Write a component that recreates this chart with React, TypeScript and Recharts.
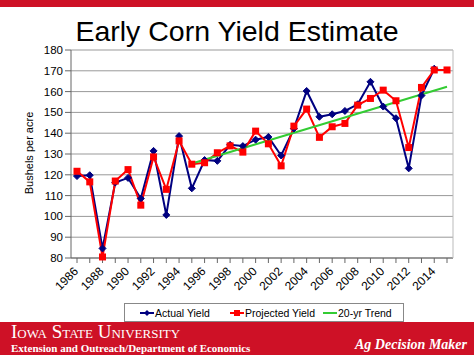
import { LineChart, Line, XAxis, YAxis, CartesianGrid } from 'recharts';

const years = [
  1986, 1987, 1988, 1989, 1990, 1991, 1992, 1993, 1994, 1995,
  1996, 1997, 1998, 1999, 2000, 2001, 2002, 2003, 2004, 2005,
  2006, 2007, 2008, 2009, 2010, 2011, 2012, 2013, 2014, 2015,
];

const actualYield = [
  119.4, 119.8, 84.6, 116.3, 118.5, 108.6, 131.5, 100.7, 138.6, 113.5,
  127.1, 126.7, 134.4, 133.8, 136.9, 138.2, 129.3, 142.2, 160.3, 147.9,
  149.1, 150.7, 153.9, 164.7, 152.8, 147.2, 123.1, 158.1, 171.0, null,
];

const projectedYield = [
  121.7, 116.6, 80.5, 117.0, 122.5, 105.4, 128.6, 113.0, 136.3, 125.1,
  125.8, 130.6, 133.9, 130.9, 141.0, 134.9, 124.3, 143.4, 151.6, 138.0,
  143.1, 144.7, 153.5, 156.7, 160.7, 155.6, 133.1, 162.0, 170.4, 170.4,
];

// 20-yr trend: only the two end points of the straight line
const trendYield = [
  null, null, null, null, null, null, null, null, null, 125.4,
  null, null, null, null, null, null, null, null, null, null,
  null, null, null, null, null, null, null, null, null, 162.3,
];

const yTicks = [80, 90, 100, 110, 120, 130, 140, 150, 160, 170, 180];

const NAVY = '#000080';
const RED = '#FF0000';
const GREEN = '#33CC33';
const CRIMSON = '#CE1126';

const data = years.map((year, i) => ({
  year,
  actual: actualYield[i],
  projected: projectedYield[i],
  trend: trendYield[i],
}));

const Diamond = (props: any) => {
  const { cx, cy, value } = props;
  if (value == null || cx == null || cy == null) return null;
  const r = 3.5;
  return (
    <path
      d={`M${cx},${cy - r}L${cx + r},${cy}L${cx},${cy + r}L${cx - r},${cy}Z`}
      fill={NAVY}
      stroke={NAVY}
    />
  );
};

const Square = (props: any) => {
  const { cx, cy, value } = props;
  if (value == null || cx == null || cy == null) return null;
  const s = 3.5;
  return <rect x={cx - s} y={cy - s} width={s * 2} height={s * 2} fill={RED} />;
};

const YearTick = (props: any) => {
  const { x, y, payload } = props;
  if (payload.value % 2 !== 0) return null;
  return (
    <text
      x={x + 2}
      y={y + 7}
      transform={`rotate(-45, ${x + 2}, ${y + 7})`}
      textAnchor="end"
      fontSize={12}
      fill="#000"
      fontFamily="Arial, 'Liberation Sans', sans-serif"
    >
      {payload.value}
    </text>
  );
};

const LegendItem = ({
  left,
  color,
  label,
  marker,
}: {
  left: number;
  color: string;
  label: string;
  marker?: 'diamond' | 'square';
}) => (
  <div
    style={{
      position: 'absolute',
      left,
      top: 0,
      height: 17,
      display: 'flex',
      alignItems: 'center',
      whiteSpace: 'nowrap',
    }}
  >
    <svg width={14} height={10} style={{ marginRight: 1 }}>
      <line x1={0} y1={5} x2={14} y2={5} stroke={color} strokeWidth={2} />
      {marker === 'diamond' && <path d="M7,2L10,5L7,8L4,5Z" fill={color} />}
      {marker === 'square' && <rect x={4} y={2} width={6} height={6} fill={color} />}
    </svg>
    <span>{label}</span>
  </div>
);

export default function App() {
  return (
    <div
      style={{
        position: 'absolute',
        left: 0,
        top: 0,
        width: 474,
        height: 355,
        background: '#fff',
        overflow: 'hidden',
        fontFamily: "Arial, 'Liberation Sans', sans-serif",
      }}
    >
      <div style={{ position: 'absolute', left: 0, top: 0, width: 474, height: 7, background: CRIMSON }} />

      <div
        style={{
          position: 'absolute',
          left: 0,
          width: 474,
          top: 15,
          textAlign: 'center',
          fontSize: 28.5,
          lineHeight: '32px',
          color: '#000',
        }}
      >
        Early Corn Yield Estimate
      </div>

      <div
        style={{
          position: 'absolute',
          left: 29,
          top: 153,
          transform: 'translate(-50%, -50%) rotate(-90deg)',
          fontSize: 11,
          whiteSpace: 'nowrap',
          color: '#000',
        }}
      >
        Bushels per acre
      </div>

      <div style={{ position: 'absolute', left: 0, top: 0 }}>
        <LineChart width={474} height={300} data={data} margin={{ top: 50, right: 20, left: 0, bottom: 0 }}>
          <CartesianGrid vertical={false} stroke="#999" strokeWidth={1} />
          <XAxis
            dataKey="year"
            interval={0}
            tick={<YearTick />}
            height={42}
            padding={{ left: 6, right: 6 }}
            stroke="#666"
            tickLine={{ stroke: '#666' }}
            tickSize={5}
          />
          <YAxis
            domain={[80, 180]}
            ticks={yTicks}
            width={71}
            interval={0}
            stroke="#666"
            tickSize={6}
            tick={{ fontSize: 11.5, fill: '#000' }}
          />
          <YAxis
            yAxisId="frame"
            orientation="right"
            width={1}
            tick={false}
            tickLine={false}
            stroke="#bbb"
          />
          <Line
            dataKey="actual"
            stroke={NAVY}
            strokeWidth={2}
            dot={<Diamond />}
            isAnimationActive={false}
          />
          <Line
            dataKey="projected"
            stroke={RED}
            strokeWidth={2}
            dot={<Square />}
            isAnimationActive={false}
          />
          <Line
            dataKey="trend"
            stroke={GREEN}
            strokeWidth={2}
            dot={false}
            connectNulls
            isAnimationActive={false}
          />
        </LineChart>
      </div>

      <div
        style={{
          position: 'absolute',
          left: 124,
          top: 303,
          width: 278,
          height: 17,
          border: '1px solid #888',
          fontSize: 10.5,
          color: '#000',
          background: '#fff',
        }}
      >
        <LegendItem left={15} color={NAVY} label="Actual Yield" marker="diamond" />
        <LegendItem left={105} color={RED} label="Projected Yield" marker="square" />
        <LegendItem left={198} color={GREEN} label="20-yr Trend" />
      </div>

      <div
        style={{
          position: 'absolute',
          left: 0,
          top: 322,
          width: 474,
          height: 33,
          background: CRIMSON,
          color: '#fff',
          fontFamily: "'Liberation Serif', 'Times New Roman', serif",
        }}
      >
        <div
          style={{
            position: 'absolute',
            left: 11,
            top: 1,
            fontSize: 19,
            lineHeight: '17px',
            fontVariant: 'small-caps',
            whiteSpace: 'nowrap',
          }}
        >
          Iowa State University
        </div>
        <div
          style={{
            position: 'absolute',
            left: 11,
            top: 21,
            fontSize: 11,
            lineHeight: '11px',
            fontWeight: 'bold',
            whiteSpace: 'nowrap',
          }}
        >
          Extension and Outreach/Department of Economics
        </div>
        <div
          style={{
            position: 'absolute',
            right: 7,
            top: 15,
            fontSize: 14,
            lineHeight: '16px',
            fontWeight: 'bold',
            fontStyle: 'italic',
            whiteSpace: 'nowrap',
          }}
        >
          Ag Decision Maker
        </div>
      </div>
    </div>
  );
}
